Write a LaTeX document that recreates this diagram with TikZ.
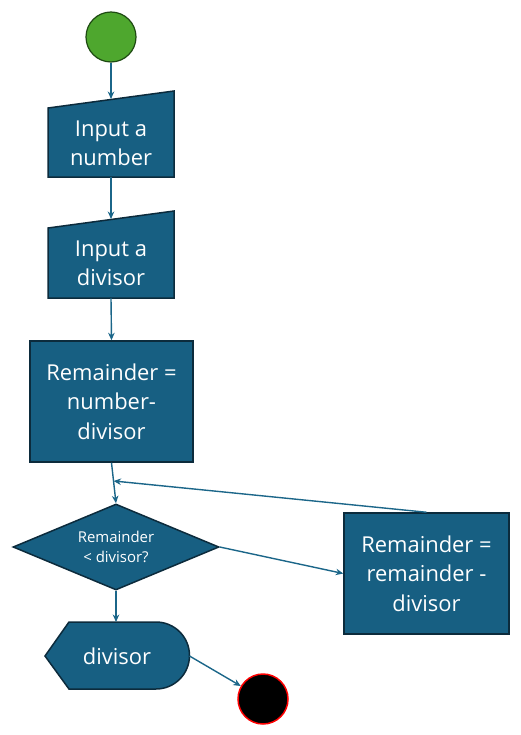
\documentclass[tikz,border=0pt]{standalone}
\usepackage{fontspec}
\setmainfont{Open Sans}
\usetikzlibrary{arrows.meta,shapes.geometric,calc}
\definecolor{boxfill}{HTML}{175F82}
\definecolor{boxline}{HTML}{0C2B3C}
\definecolor{conn}{HTML}{1B6689}
\definecolor{startfill}{HTML}{4EA72E}
\definecolor{startline}{HTML}{1E4A12}
\begin{document}
\begin{tikzpicture}[x=1bp,y=-1bp,
  shapefill/.style={fill=boxfill,draw=boxline,line width=1.5bp,line join=miter},
  txt/.style={text=white,font=\fontsize{22}{29.5}\selectfont,align=center,inner sep=0},
  smalltxt/.style={text=white,font=\fontsize{15}{20}\selectfont,align=center,inner sep=0},
  procbox/.style={shapefill,rectangle,txt},
  decision/.style={shapefill,diamond,aspect=2.4,smalltxt,minimum width=206bp,minimum height=86bp},
  arr/.style={draw=conn,line width=1.4bp,-{Stealth[length=7.5bp,width=6.5bp]}}
]
\useasboundingbox (0,0) rectangle (521,735);

% start
\node[circle,fill=startfill,draw=startline,line width=1.2bp,minimum size=50bp,inner sep=0] (start) at (111,37) {};

% input 1 (manual input)
\draw[shapefill] (48,177) -- (174,177) -- (174,91) -- (48,108) -- cycle;
\node[txt] (in1) at (111,143) {Input a\\number};
\coordinate (in1top) at (111,99);
\coordinate (in1bot) at (111,177);

% input 2
\draw[shapefill] (48,298) -- (174,298) -- (174,211) -- (48,228) -- cycle;
\node[txt] (in2) at (111,263) {Input a\\divisor};
\coordinate (in2top) at (111,219);
\coordinate (in2bot) at (111,298);

% process box
\node[procbox,minimum width=163bp,minimum height=121bp] (b3) at (111.5,401.5) {Remainder =\\number-\\divisor};

% decision
\node[decision] (dia) at (116,547) {Remainder\\< divisor?};

% right process box
\node[procbox,minimum width=165bp,minimum height=121bp] (b4) at (426.5,573.5) {Remainder =\\remainder -\\divisor};

% display shape
\draw[shapefill] (45,656) -- (69,622) -- (156,622) arc[start angle=-90,end angle=90,radius=33.5] -- (69,689) -- cycle;
\node[txt] (disp) at (117,656) {divisor};
\coordinate (disptop) at (116,622);
\coordinate (dispright) at (189.5,656);

% end
\node[circle,fill=black,draw=red,line width=1.5bp,minimum size=50bp,inner sep=0] (end) at (263,699) {};

% connectors
\draw[arr] (start) -- (in1top);
\draw[arr] (in1bot) -- (in2top);
\draw[arr] (in2bot) -- (b3.north);
\draw[arr] (b3.south) -- (dia.north);
\coordinate (merge) at ($(b3.south)!0.45!(dia.north)$);
\draw[arr] (b4.north) -- (merge);
\draw[arr] (dia.east) -- (b4.west);
\draw[arr] (dia.south) -- (disptop);
\draw[arr] (dispright) -- (end);
\end{tikzpicture}
\end{document}
